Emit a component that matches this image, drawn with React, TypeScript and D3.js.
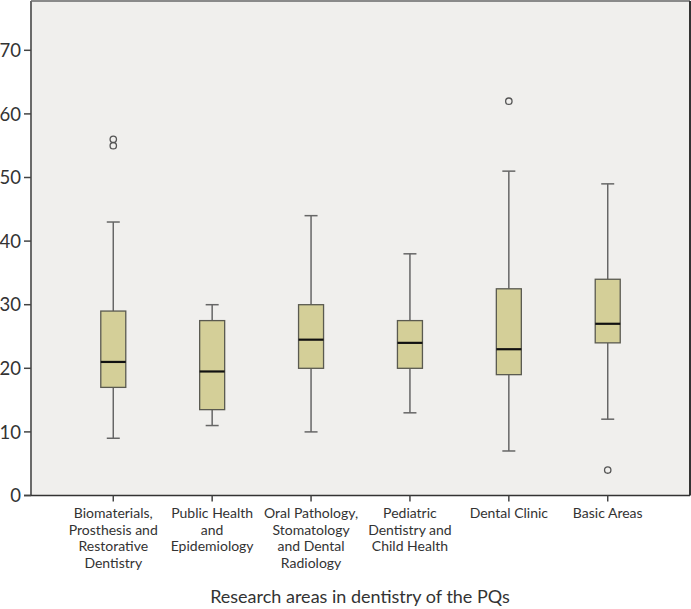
import React from "react";
import * as d3 from "d3";

const categories: string[][] = [
  ["Biomaterials,", "Prosthesis and", "Restorative", "Dentistry"],
  ["Public Health", "and", "Epidemiology"],
  ["Oral Pathology,", "Stomatology", "and Dental", "Radiology"],
  ["Pediatric", "Dentistry and", "Child Health"],
  ["Dental Clinic"],
  ["Basic Areas"],
];
const lowerWhisker = [9, 11, 10, 13, 7, 12];
const q1 = [17, 13.5, 20, 20, 19, 24];
const median = [21, 19.5, 24.5, 24, 23, 27];
const q3 = [29, 27.5, 30, 27.5, 32.5, 34];
const upperWhisker = [43, 30, 44, 38, 51, 49];
const outliers: number[][] = [[55, 56], [], [], [], [62], [4]];
const yTicks = [0, 10, 20, 30, 40, 50, 60, 70];
const xTitle = "Research areas in dentistry of the PQs";

const W = 691;
const H = 609;
const left = 31;
const right = 690;
const top = 1;
const bottom = 495.5;
const FONT = "Lato, 'Noto Sans', sans-serif";

export default function App() {
  const idx = categories.map((_, i) => String(i));
  const x = d3.scalePoint<string>().domain(idx).range([left, right]).padding(0.832);
  const y = d3.scaleLinear().domain([0, 70]).range([bottom, 50.3]);
  const bw = 25;
  const cap = 6.5;
  return (
    <svg width={W} height={H} style={{ position: "absolute", left: 0, top: 0 }}>
      <rect x={left} y={top} width={right - left} height={bottom - top} fill="#f0efed" stroke="none" />
      <line x1={left} x2={right} y1={top} y2={top} stroke="#8a8a8a" strokeWidth={2} />
      <line x1={right} x2={right} y1={top} y2={bottom} stroke="#333" strokeWidth={2} />
      <line x1={left} x2={left} y1={top} y2={bottom} stroke="#6a6a6a" strokeWidth={2} />
      <line x1={left - 7} x2={right} y1={bottom} y2={bottom} stroke="#333" strokeWidth={1.5} />
      {yTicks.map((t) => (
        <g key={t}>
          <line x1={left - 7} x2={left} y1={y(t)} y2={y(t)} stroke="#444" strokeWidth={1.5} />
          <text x={left - 10} y={y(t)} dy="0.36em" textAnchor="end" fontFamily={FONT} fontSize={18.5} fill="#333">
            {t}
          </text>
        </g>
      ))}
      {categories.map((lines, i) => {
        const cx = x(String(i))!;
        return (
          <g key={i}>
            <line x1={cx} x2={cx} y1={bottom} y2={bottom + 6} stroke="#444" strokeWidth={1.5} />
            {lines.map((l, j) => (
              <text key={j} x={cx} y={518 + j * 16.7} textAnchor="middle" fontFamily={FONT} fontSize={14} fill="#333">
                {l}
              </text>
            ))}
            <line x1={cx} x2={cx} y1={y(upperWhisker[i])} y2={y(q3[i])} stroke="#666" strokeWidth={1.5} />
            <line x1={cx} x2={cx} y1={y(q1[i])} y2={y(lowerWhisker[i])} stroke="#666" strokeWidth={1.5} />
            <line x1={cx - cap} x2={cx + cap} y1={y(upperWhisker[i])} y2={y(upperWhisker[i])} stroke="#666" strokeWidth={1.5} />
            <line x1={cx - cap} x2={cx + cap} y1={y(lowerWhisker[i])} y2={y(lowerWhisker[i])} stroke="#666" strokeWidth={1.5} />
            <rect x={cx - bw / 2} y={y(q3[i])} width={bw} height={y(q1[i]) - y(q3[i])} fill="#d4cf98" stroke="#5a5a50" strokeWidth={1.3} />
            <line x1={cx - bw / 2} x2={cx + bw / 2} y1={y(median[i])} y2={y(median[i])} stroke="#111" strokeWidth={2.2} />
            {outliers[i].map((o, k) => (
              <circle key={k} cx={cx} cy={y(o)} r={3.2} fill="none" stroke="#555" strokeWidth={1.3} />
            ))}
          </g>
        );
      })}
      <text x={360} y={603} textAnchor="middle" fontFamily={FONT} fontSize={18} fill="#333">
        {xTitle}
      </text>
    </svg>
  );
}
